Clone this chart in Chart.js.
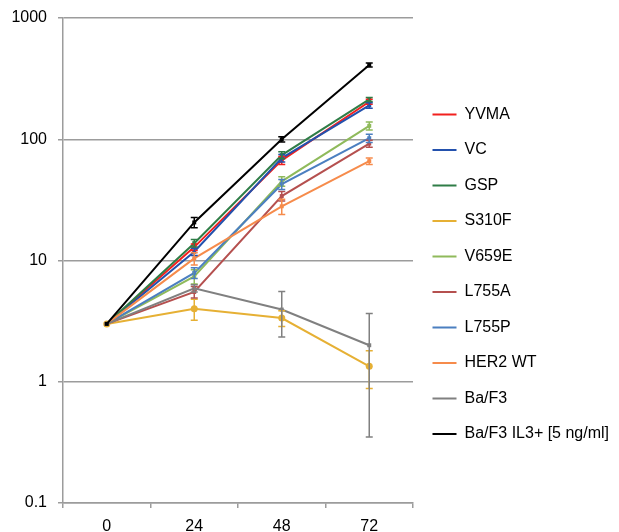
<!DOCTYPE html>
<html>
<head>
<meta charset="utf-8">
<script src="https://cdn.jsdelivr.net/npm/chart.js@4/dist/chart.umd.min.js"></script>
<style>
  html, body { margin: 0; padding: 0; background: #fff; }
</style>
</head>
<body>
<canvas id="canvas" width="619" height="532"></canvas>
<script>
// Horas de cultivo (eje x) y marcas del eje logarítmico
var hours = ['0', '24', '48', '72'];
var yTicks = [0.1, 1, 10, 100, 1000];

// Número de células por línea (valores medios)
var yvma  = [3, 12.9, 67, 204];
var vc    = [3, 11.8, 70, 190];
var gsp   = [3, 13.9, 74, 213];
var s310f = [3, 4.0, 3.35, 1.34];
var v659e = [3, 7.4, 45, 129];
var l755a = [3, 5.5, 34, 92];
var l755p = [3, 7.9, 42.6, 102];
var her2  = [3, 10.4, 28, 66];
var baf3  = [3, 5.9, 3.94, 2.0];
var il3   = [3, 20.6, 100, 410];

// Barras de error (+/-)
var yvmaErr  = [0, 0.8, 5, 10];
var vcErr    = [0, 0.8, 5, 10];
var gspErr   = [0, 1.0, 5, 8];
var s310fErr = [0, 0.78, 0.5, 0.46];
var v659eErr = [0, 1.0, 4, 10];
var l755aErr = [0, 0.6, 3, 6];
var l755pErr = [0, 0.8, 4, 8];
var her2Err  = [0, 1.2, 4, 4];
var baf3Err  = [0, 0.4, 1.6, 1.65];
var il3Err   = [0, 2.0, 5, 15];

var FONT = '"Liberation Sans", Arial, Helvetica, sans-serif';

function serie(label, data, errors, color, style) {
    return {
        label: label,
        data: data,
        errors: errors,
        borderColor: color,
        backgroundColor: color,
        borderWidth: 2,
        pointStyle: style || 'rect',
        pointRadius: style === 'circle' ? 3.5 : 2.8,
        pointBorderWidth: 0,
        tension: 0,
        fill: false
    };
}

var datasets = [
    serie('YVMA', yvma, yvmaErr, '#f2201e'),
    serie('VC', vc, vcErr, '#2351ad'),
    serie('GSP', gsp, gspErr, '#2f7d47'),
    serie('S310F', s310f, s310fErr, '#e6b034', 'circle'),
    serie('V659E', v659e, v659eErr, '#8fba5b'),
    serie('L755A', l755a, l755aErr, '#b5504f'),
    serie('L755P', l755p, l755pErr, '#4b7fc0'),
    serie('HER2 WT', her2, her2Err, '#f68b4b'),
    serie('Ba/F3', baf3, baf3Err, '#808080'),
    serie('Ba/F3 IL3+ [5 ng/ml]', il3, il3Err, '#000000')
];
// La última serie queda encima, como en la hoja de cálculo
datasets.forEach(function (d, i) { d.order = datasets.length - i; });

/**
 * Dibuja las barras de error usando la escala del eje y
 */
var errorBars = {
    id: 'errorBars',
    afterDatasetsDraw: function (chart) {
        var ctx = chart.ctx;
        var yScale = chart.scales.y;
        for (var i = 0; i < chart.data.datasets.length; i++) {
            var ds = chart.data.datasets[i];
            var meta = chart.getDatasetMeta(i);
            ctx.save();
            ctx.strokeStyle = ds.borderColor;
            ctx.lineWidth = 1.5;
            meta.data.forEach(function (pt, j) {
                var e = ds.errors[j];
                if (!e) return;
                var v = ds.data[j];
                var top = yScale.getPixelForValue(v + e);
                var bot = yScale.getPixelForValue(Math.max(v - e, 0.1));
                ctx.beginPath();
                ctx.moveTo(pt.x, top); ctx.lineTo(pt.x, bot);
                ctx.moveTo(pt.x - 3.5, top); ctx.lineTo(pt.x + 3.5, top);
                ctx.moveTo(pt.x - 3.5, bot); ctx.lineTo(pt.x + 3.5, bot);
                ctx.stroke();
            });
            ctx.restore();
        }
    }
};

var chart = new Chart(document.getElementById('canvas'), {
    type: 'line',
    data: { labels: hours, datasets: datasets },
    plugins: [errorBars],
    options: {
        responsive: false,
        animation: false,
        layout: { padding: { top: 18, left: 0, right: 0, bottom: 0 } },
        plugins: {
            tooltip: { enabled: false },
            legend: {
                position: 'right',
                align: 'start',
                maxWidth: 206,
                title: { display: true, text: ' ', font: { size: 10 }, padding: { top: 57, bottom: 0 } },
                labels: {
                    sort: function (a, b) { return a.datasetIndex - b.datasetIndex; },
                    boxWidth: 24,
                    boxHeight: 0,
                    padding: 19.5,
                    color: '#000',
                    font: { family: FONT, size: 16 }
                }
            }
        },
        scales: {
            x: {
                offset: true,
                grid: { offset: true, drawOnChartArea: false, color: '#9c9c9c', lineWidth: 1.5, tickLength: 5 },
                border: { color: '#9c9c9c', width: 1.5 },
                ticks: { color: '#000', padding: 9, font: { family: FONT, size: 16 } },
                afterFit: function (s) { s.height = 29; }
            },
            y: {
                type: 'logarithmic',
                min: 0.1,
                max: 1000,
                afterBuildTicks: function (s) {
                    s.ticks = yTicks.map(function (v) { return { value: v }; });
                },
                grid: { color: '#9c9c9c', lineWidth: 1.5, tickLength: 5 },
                border: { color: '#9c9c9c', width: 1.5 },
                ticks: {
                    color: '#000',
                    padding: 11,
                    font: { family: FONT, size: 16 },
                    callback: function (v) { return String(v); }
                },
                afterFit: function (s) {
                    s.width = 63;
                    s.paddingTop = 0;
                    s.paddingBottom = 0;
                }
            }
        }
    }
});
</script>
</body>
</html>
